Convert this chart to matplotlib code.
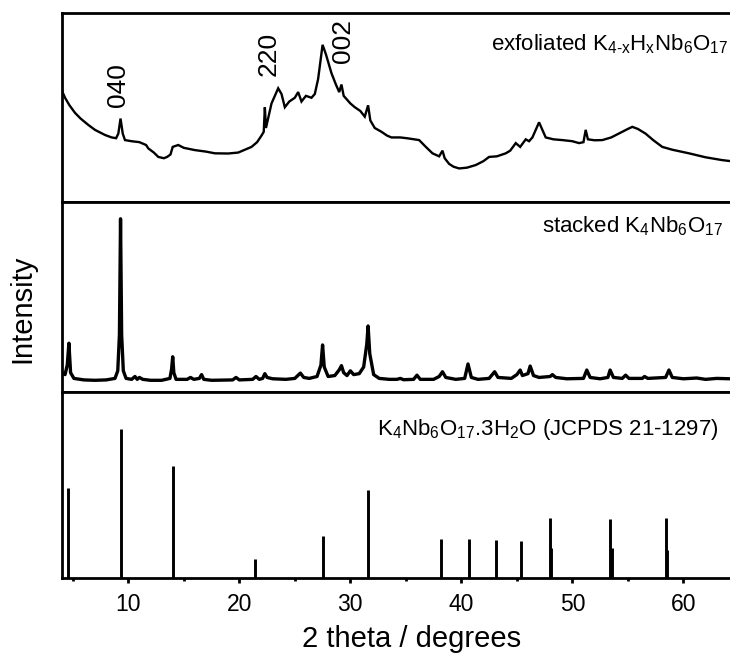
import matplotlib
matplotlib.use("Agg")
import matplotlib.pyplot as plt
from matplotlib.ticker import MultipleLocator

plt.rcParams['font.family'] = ['Liberation Sans', 'DejaVu Sans']
plt.rcParams['mathtext.fontset'] = 'custom'
plt.rcParams['mathtext.rm'] = 'Liberation Sans'
plt.rcParams['mathtext.it'] = 'Liberation Sans'
plt.rcParams['mathtext.bf'] = 'Liberation Sans:bold'

# ---------------- data (intensity in % of panel height) ----------------
exf_x = [4.0, 4.3, 4.7, 5.2, 5.7, 6.4, 7.0, 7.5, 7.9, 8.5, 8.9, 9.1, 9.3, 9.5, 9.7,
         10.3, 11.0, 11.2, 11.6, 11.8, 12.3, 12.7, 13.2, 13.5, 13.8, 14.0, 14.5, 15.0,
         16.0, 17.0, 17.8, 19.0, 19.9, 20.5, 21.1, 21.6, 22.0, 22.2, 22.3, 22.4, 22.9,
         23.5, 23.8, 24.1, 24.5, 25.0, 25.3, 25.6, 26.0, 26.5, 26.8, 27.1, 27.5, 27.8,
         28.3, 28.7, 29.0, 29.2, 29.4, 30.0, 30.4, 30.9, 31.3, 31.6, 31.8, 32.2, 32.8,
         33.3, 33.7, 34.5, 35.2, 36.2, 36.8, 37.4, 38.0, 38.3, 38.5, 38.9, 39.3, 39.8,
         40.5, 41.3, 42.0, 42.5, 43.2, 44.0, 44.4, 44.9, 45.3, 45.8, 46.1, 46.4, 46.7,
         47.0, 47.3, 47.6, 48.3, 49.1, 50.0, 50.6, 51.0, 51.2, 51.4, 52.0, 52.7, 53.5,
         54.0, 54.5, 55.0, 55.4, 55.9, 56.6, 57.3, 58.1, 59.0, 60.5, 62.0, 63.5, 64.2]
exf_y = [59, 55, 51, 47, 44, 40.6, 38, 36.5, 35.3, 34, 33.6, 36, 44, 36, 32.6,
         32, 31.5, 31, 30, 28.2, 26, 23.7, 23, 23.7, 25, 29, 30, 28.5,
         27.3, 26.5, 25.6, 25.5, 26, 27.5, 29, 31.5, 35, 37, 50, 39, 52,
         60, 57, 50, 53, 55, 58, 53, 56, 55, 57, 65, 83, 78,
         68, 62, 58, 62, 56, 52, 50, 48, 45, 51, 43, 39, 37,
         35, 34, 34, 33.5, 32.6, 29, 25.6, 24, 27, 23, 20, 18.5, 17.6,
         18, 19.4, 21.5, 23.7, 24, 25.6, 27, 31, 29, 33, 32, 34, 38,
         42, 38, 34, 33, 32.6, 32, 31, 31.5, 38, 33, 32.5, 32.6, 34,
         35.5, 37, 38.5, 39.6, 38.5, 36, 32.5, 29, 27.5, 25.6, 23.5, 22, 21.5]

stk_x = [4.0, 4.3, 4.5, 4.65, 4.8, 5.1, 6.0, 7.0, 8.0, 8.8, 9.05, 9.2, 9.3, 9.4, 9.55,
         9.8, 10.3, 10.6, 10.8, 11.0, 11.3, 12.0, 13.0, 13.75, 13.9, 14.0, 14.1, 14.3,
         15.3, 15.6, 15.9, 16.4, 16.6, 16.8, 17.5, 19.4, 19.7, 20.0, 21.2, 21.5, 21.8,
         22.1, 22.3, 22.5, 23.0, 24.2, 25.0, 25.5, 25.8, 26.3, 27.0, 27.35, 27.5, 27.65,
         28.0, 28.6, 29.0, 29.2, 29.4, 29.7, 30.0, 30.3, 30.8, 31.2, 31.48, 31.6, 31.75,
         32.1, 32.6, 33.5, 34.2, 34.5, 34.8, 35.7, 36.0, 36.3, 37.5, 38.0, 38.3, 38.6,
         39.5, 40.3, 40.6, 40.9, 41.5, 42.5, 43.0, 43.3, 44.5, 45.0, 45.3, 45.5, 46.0,
         46.2, 46.5, 47.0, 48.0, 48.2, 48.5, 49.5, 51.0, 51.3, 51.6, 52.5, 53.2, 53.4,
         53.7, 54.5, 54.8, 55.1, 56.3, 56.5, 56.8, 58.4, 58.7, 59.0, 60.0, 61.2, 62.0,
         63.0, 64.2]
stk_y = [10, 9, 14, 25.5, 10, 7, 6.2, 6, 6.2, 7, 11, 30, 91, 30, 11,
         7, 6.5, 8, 6.5, 7.5, 6.5, 6, 6, 7, 12, 18.4, 10, 6.5,
         6.5, 7.5, 6.5, 7, 9, 6.5, 6, 6.2, 7.5, 6.2, 6.5, 8, 6.5,
         7, 9.5, 7.5, 6.8, 6.5, 7, 9.8, 7.5, 7, 8, 14, 24.6, 13,
         8, 8.5, 11.5, 13.7, 10, 8.5, 11, 9, 9.5, 13, 25, 34.6, 20,
         9, 7, 6.5, 6.5, 7, 6.3, 6.5, 8.7, 6.5, 6.5, 8, 10.5, 7.5,
         6.5, 7, 14.6, 7.5, 6.5, 7, 10.5, 7.5, 7, 9, 11.4, 8.5, 9.5,
         13.5, 8.5, 7.5, 8, 9, 7.5, 6.8, 7, 11.4, 7.5, 6.8, 7.5, 11.4,
         7.5, 7, 8.7, 7, 7, 8, 7, 7.5, 11.4, 7.5, 6.8, 7.2, 6.5,
         7, 6.8]

ref_pos = [4.6, 9.3, 14.0, 21.4, 27.5, 31.6, 38.2, 40.7, 43.1, 45.4, 48.0, 53.4, 58.4]
ref_int = [48.1, 79.8, 60.1, 10.0, 22.7, 47.2, 20.9, 20.9, 20.4, 19.9, 32.0, 31.7, 32.0]
ref2_pos = [48.12, 53.55, 58.55]
ref2_int = [16, 16, 15]

hkl_labels = ['040', '220', '002']
hkl_x = [9.07, 22.6, 29.3]
hkl_yfrac = [0.615, 0.784, 0.848]

xticks = [10, 20, 30, 40, 50, 60]

HY = '\u2010'
label_top = ('exfoliated K$_{\\mathregular{4' + HY + 'x}}$H$_{\\mathregular{x}}$'
             'Nb$_{\\mathregular{6}}$O$_{\\mathregular{17}}$')
label_mid = 'stacked K$_{\\mathregular{4}}$Nb$_{\\mathregular{6}}$O$_{\\mathregular{17}}$'
label_bot = ('K$_{\\mathregular{4}}$Nb$_{\\mathregular{6}}$O$_{\\mathregular{17}}$'
             '.3H$_{\\mathregular{2}}$O (JCPDS 21-1297)')

# ---------------- figure ----------------
fig = plt.figure(figsize=(7.30, 6.53), dpi=100)
L, R = 61.7 / 730, 1.0
W = R - L
ax_top = fig.add_axes([L, 1 - 201.7 / 653, W, 189.0 / 653])
ax_mid = fig.add_axes([L, 1 - 391.7 / 653, W, 190.0 / 653], sharex=ax_top)
ax_bot = fig.add_axes([L, 1 - 578.0 / 653, W, 186.3 / 653], sharex=ax_top)

for ax in (ax_top, ax_mid, ax_bot):
    ax.set_ylim(0, 100)
    ax.set_yticks([])
    ax.spines['right'].set_visible(False)
    for s in ('left', 'top', 'bottom'):
        ax.spines[s].set_linewidth(2.0)
    ax.tick_params(axis='x', which='both', top=False, bottom=False,
                   labelbottom=False)

ax_top.plot(exf_x, exf_y, color='black', lw=1.7, solid_joinstyle='miter')
ax_mid.plot(stk_x, stk_y, color='black', lw=2.4, solid_joinstyle='round')
ax_bot.vlines(ref_pos, 0, ref_int, color='black', lw=2.1)
ax_bot.vlines(ref2_pos, 0, ref2_int, color='black', lw=2.1)

ax_bot.set_xlim(4.0, 64.2)
ax_bot.set_xticks(xticks)
ax_bot.xaxis.set_minor_locator(MultipleLocator(5))
ax_bot.tick_params(axis='x', which='major', bottom=True, labelbottom=True,
                   direction='out', length=3.5, width=2.0, labelsize=16.5, pad=7)
ax_bot.tick_params(axis='x', which='minor', bottom=True, direction='out',
                   length=2.2, width=2.0)

for lab, xx, yy in zip(hkl_labels, hkl_x, hkl_yfrac):
    ax_top.text(xx, yy, lab, transform=ax_top.get_xaxis_transform(),
                rotation=90, ha='center', va='center', fontsize=19)

ax_top.text(0.997, 0.803, label_top, transform=ax_top.transAxes,
            ha='right', va='baseline', fontsize=16)
ax_mid.text(0.9895, 0.84, label_mid, transform=ax_mid.transAxes,
            ha='right', va='baseline', fontsize=16)
ax_bot.text(0.982, 0.7676, label_bot, transform=ax_bot.transAxes,
            ha='right', va='baseline', fontsize=16)

fig.text(411.5 / 730, 1 - 647 / 653, '2 theta / degrees', ha='center',
         va='baseline', fontsize=21)
fig.text(22 / 730, 1 - 309 / 653, 'Intensity', ha='center', va='center',
         rotation=90, fontsize=21)

fig.savefig('out.png', dpi=100)
